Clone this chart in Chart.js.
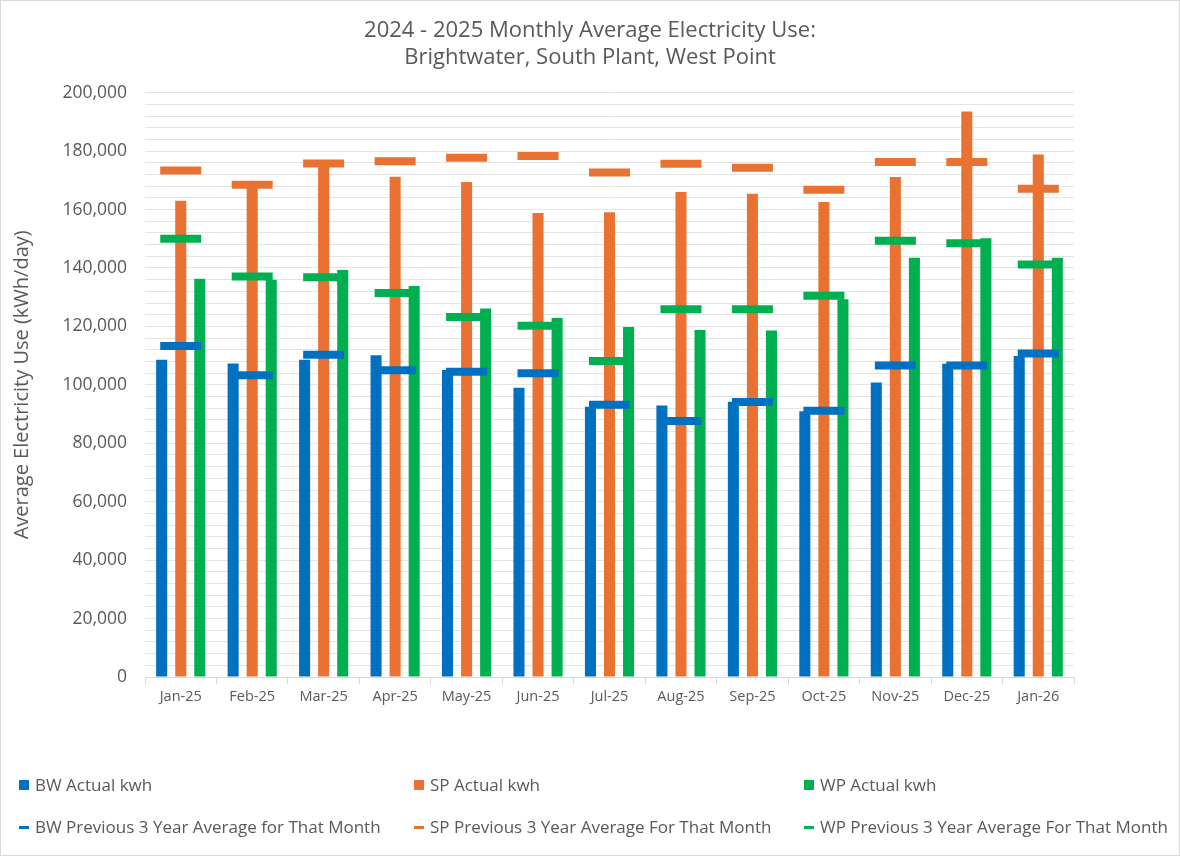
<!DOCTYPE html>
<html>
<head>
<meta charset="utf-8">
<script src="https://cdn.jsdelivr.net/npm/chart.js@4/dist/chart.umd.min.js"></script>
<style>
  body { margin: 0; background: #fff; }
  #wrap { position: relative; width: 1180px; height: 856px; font-family: "Open Sans", Lato, sans-serif; }
  #frame { position: absolute; left: 0; top: 0; width: 1178px; height: 854px; border: 1px solid #d9d9d9; pointer-events: none; }
  .leg { position: absolute; font-size: 17px; color: #595959; white-space: nowrap; line-height: 20px; }
  .leg i { display: inline-block; vertical-align: middle; margin-right: 6px; position: relative; top: -1px; }
  .sq { width: 10px; height: 10px; }
  .ln { width: 10px; height: 3px; }
</style>
</head>
<body>
<div id="wrap">
  <canvas id="chart"></canvas>
  <div id="legend"></div>
  <div id="frame"></div>
</div>
<script>
const months = ["Jan-25", "Feb-25", "Mar-25", "Apr-25", "May-25", "Jun-25", "Jul-25",
  "Aug-25", "Sep-25", "Oct-25", "Nov-25", "Dec-25", "Jan-26"];

// actual monthly averages (kWh/day)
const bwActual = [108600, 107300, 108600, 110100, 105100, 99000, 92500, 92900, 94200, 91000, 100800, 107200, 109900];
const spActual = [163000, 167500, 175000, 171200, 169400, 158800, 159100, 166000, 165400, 162600, 171100, 193600, 178800];
const wpActual = [136300, 136000, 139300, 133800, 126100, 122900, 119800, 118800, 118600, 129300, 143500, 150200, 143500];

// previous 3 year average for the same month
const bwPrev = [113300, 103300, 110300, 105000, 104500, 104000, 93200, 87600, 94100, 91100, 106600, 106600, 110700];
const spPrev = [173400, 168500, 175800, 176500, 177700, 178300, 172700, 175700, 174300, 166800, 176300, 176300, 167100];
const wpPrev = [150000, 137100, 136800, 131400, 123200, 120200, 108200, 125900, 125900, 130500, 149300, 148500, 141200];

const BLUE = "#0070C0";
const ORANGE = "#E97132";
const GREEN = "#00B050";
const TEXT = "#595959";
const FONT = "'Open Sans', Lato, sans-serif";

const barSet = (label, data, color) => ({
  type: "bar",
  label,
  data,
  backgroundColor: color,
  borderWidth: 0,
  categoryPercentage: 0.8,
  barPercentage: 0.58,
  order: 1,
});

const markSet = (label, data, color) => ({
  type: "line",
  label,
  data,
  showLine: false,
  pointStyle: "line",
  pointRadius: 20.5,
  pointHoverRadius: 20.5,
  pointBorderWidth: 8,
  pointHoverBorderWidth: 8,
  pointBorderColor: color,
  pointBackgroundColor: color,
  borderColor: color,
  order: 0,
});

const datasets = [
  barSet("BW Actual kwh", bwActual, BLUE),
  barSet("SP Actual kwh", spActual, ORANGE),
  barSet("WP Actual kwh", wpActual, GREEN),
  markSet("BW Previous 3 Year Average for That Month", bwPrev, BLUE),
  markSet("SP Previous 3 Year Average For That Month", spPrev, ORANGE),
  markSet("WP Previous 3 Year Average For That Month", wpPrev, GREEN),
];

// legend laid out in a 3 column grid like the original
const legendPos = [[19, 775], [414, 775], [804, 775], [19, 817], [414, 817], [804, 817]];
const legendEl = document.getElementById("legend");
datasets.forEach((ds, i) => {
  const d = document.createElement("div");
  d.className = "leg";
  d.style.left = legendPos[i][0] + "px";
  d.style.top = legendPos[i][1] + "px";
  const sw = document.createElement("i");
  sw.className = ds.type === "bar" ? "sq" : "ln";
  sw.style.background = ds.type === "bar" ? ds.backgroundColor : ds.borderColor;
  d.appendChild(sw);
  d.appendChild(document.createTextNode(ds.label));
  legendEl.appendChild(d);
});

const canvas = document.getElementById("chart");
canvas.style.width = "1180px";
canvas.style.height = "856px";

new Chart(canvas, {
  data: { labels: months, datasets },
  options: {
    responsive: false,
    maintainAspectRatio: false,
    animation: false,
    layout: { padding: { left: 0, right: 0, top: 0, bottom: 149 } },
    plugins: {
      legend: { display: false },
      tooltip: { enabled: false },
      title: {
        display: true,
        text: ["2024 - 2025 Monthly Average Electricity Use:", "Brightwater, South Plant, West Point"],
        color: TEXT,
        font: { family: FONT, size: 22, weight: "normal", lineHeight: 1.22 },
        padding: { top: 17, bottom: 22 },
      },
    },
    scales: {
      x: {
        grid: { display: true, offset: true, drawOnChartArea: false, drawTicks: true, tickLength: 7, color: "#d9d9d9" },
        border: { display: true, color: "#d9d9d9" },
        ticks: { color: TEXT, font: { family: FONT, size: 14.5 }, padding: 4, maxRotation: 0, autoSkip: false },
        afterFit: (s) => { s.height = 30; },
      },
      y: {
        min: 0,
        max: 200000,
        grid: { color: "#e4e4e4", drawTicks: false },
        border: { display: false },
        ticks: {
          stepSize: 4000,
          autoSkip: false,
          color: TEXT,
          padding: 18,
          font: { family: FONT, size: 17.5 },
          callback: (v) => (v % 20000 === 0 ? v.toLocaleString("en-US") : ""),
        },
        title: {
          display: true,
          text: "Average Electricity Use (kWh/day)",
          color: TEXT,
          font: { family: FONT, size: 20 },
          padding: { top: 10, bottom: 0 },
        },
        afterFit: (s) => { s.width = 145; },
      },
      // empty right-hand box so the title centres on the whole canvas
      spacer: {
        type: "linear",
        position: "right",
        display: true,
        grid: { display: false, drawTicks: false },
        border: { display: false },
        ticks: { display: false },
        afterFit: (s) => { s.width = 106; },
      },
    },
  },
});
</script>
</body>
</html>
